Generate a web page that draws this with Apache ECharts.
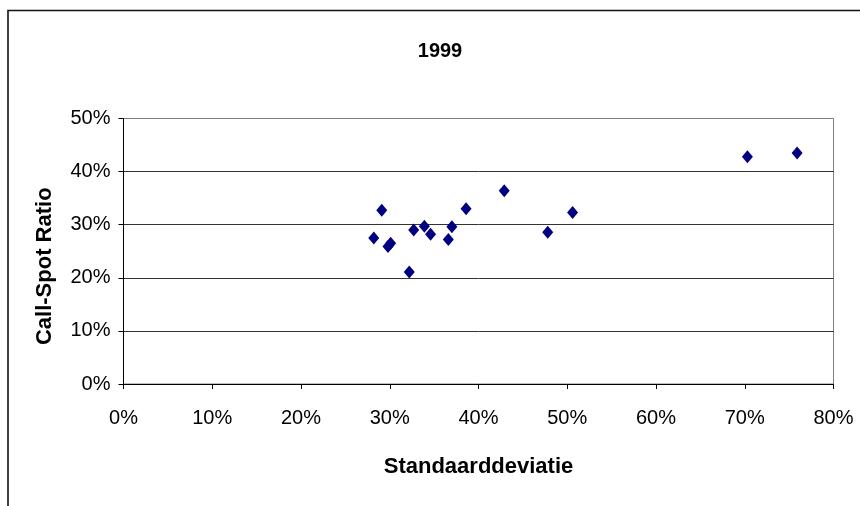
<!DOCTYPE html>
<html>
<head>
<meta charset="utf-8">
<script src="https://cdn.jsdelivr.net/npm/echarts@6/dist/echarts.min.js"></script>
<style>
html,body{margin:0;padding:0;background:#fff;}
#chart{width:860px;height:506px;}
</style>
</head>
<body>
<div id="chart"></div>
<script>
const titleText = '1999';
const xName = 'Standaarddeviatie';
const yName = 'Call-Spot Ratio';
// Standard deviation (%) and call-spot ratio (%)
const stdDev = [28.2, 29.1, 29.8, 30.1, 32.2, 32.7, 33.9, 34.6, 36.6, 37.0, 38.6, 42.9, 47.8, 50.6, 70.3, 75.9];
const callSpot = [27.5, 32.7, 25.9, 26.5, 21.1, 29.0, 29.7, 28.2, 27.2, 29.6, 33.0, 36.4, 28.6, 32.3, 42.8, 43.5];
const xTicks = [0, 10, 20, 30, 40, 50, 60, 70, 80];
const yTicks = [0, 10, 20, 30, 40, 50];

const points = stdDev.map((x, i) => [x, callSpot[i]]);
const font = '"Liberation Sans", Arial, sans-serif';

const chart = echarts.init(document.getElementById('chart'));
chart.setOption({
  animation: false,
  backgroundColor: '#fff',
  title: {
    text: titleText, left: 435, top: 36, textAlign: 'center',
    textStyle: { fontFamily: font, fontSize: 20, fontWeight: 'bold', color: '#000' }
  },
  graphic: [{
    type: 'rect', shape: { x: 8, y: 10.5, width: 900, height: 600 },
    style: { fill: 'none', stroke: '#111', lineWidth: 1.6 }, silent: true
  }],
  grid: { left: 123.5, right: 26.5, top: 118.5, bottom: 122, show: true, borderColor: '#808080', borderWidth: 1 },
  xAxis: {
    type: 'value', min: xTicks[0], max: xTicks[xTicks.length - 1], interval: 10,
    name: xName, nameLocation: 'middle', nameGap: 72,
    nameTextStyle: { fontFamily: font, fontSize: 22, fontWeight: 'bold', color: '#000' },
    axisLine: { lineStyle: { color: '#000', width: 1 } },
    axisTick: { show: true, inside: false, length: 5, lineStyle: { color: '#000' } },
    axisLabel: { formatter: '{value}%', fontFamily: font, fontSize: 20, color: '#000', margin: 24 },
    splitLine: { show: false }
  },
  yAxis: {
    type: 'value', min: yTicks[0], max: yTicks[yTicks.length - 1], interval: 10,
    name: yName, nameLocation: 'middle', nameGap: 68, nameRotate: 90,
    nameTextStyle: { fontFamily: font, fontSize: 22, fontWeight: 'bold', color: '#000', padding: [0, 30, 0, 0] },
    axisLine: { show: true, lineStyle: { color: '#000', width: 1 } },
    axisTick: { show: true, inside: false, length: 5, lineStyle: { color: '#000' } },
    axisLabel: { formatter: '{value}%', fontFamily: font, fontSize: 20, color: '#000', margin: 13 },
    splitLine: { show: true, lineStyle: { color: ['#333', '#333', '#333', '#333', '#333', '#808080'], width: 1 } }
  },
  series: [{
    type: 'scatter', data: points, symbol: 'diamond', symbolSize: [11, 13],
    itemStyle: { color: '#000080', opacity: 1 }
  }]
});
</script>
</body>
</html>
